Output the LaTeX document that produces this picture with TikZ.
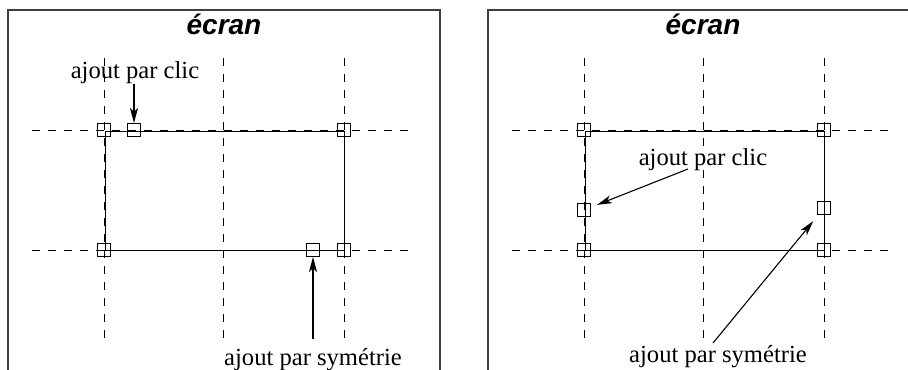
\documentclass[tikz,border=0pt]{standalone}
\usepackage{fontspec}
\setmainfont{Liberation Serif}
\setsansfont{Liberation Sans}
\usetikzlibrary{arrows.meta}
\begin{document}
\begin{tikzpicture}[x=0.5pt,y=-0.5pt,
  frameline/.style={draw=black!75,line width=0.8pt},
  gridline/.style={draw=black,line width=0.5pt,dash pattern=on 4pt off 4pt},
  rectline/.style={draw=black,line width=0.5pt},
  pt/.style={draw=black,line width=0.5pt,minimum size=6.5pt,inner sep=0pt},
  lbl/.style={font=\fontsize{12.3}{14}\selectfont,inner sep=0pt,anchor=base},
  ttl/.style={font=\fontsize{14}{16}\selectfont\sffamily\bfseries\itshape,inner sep=0pt,anchor=base},
  ptr/.style={draw=black,line width=0.55pt,-{Stealth[length=7.5pt,width=4pt,inset=2pt]}}]
\useasboundingbox (0,0) rectangle (908,369);

% ---------- left panel ----------
\draw[frameline] (8,372) -- (8,10) -- (440,10) -- (440,372);
\node[ttl] (titleL) at (224,35) {écran};
\foreach \x in {104,223,344} \draw[gridline] (\x,58) -- (\x,340);
\foreach \y in {130,250} \draw[gridline] (32,\y) -- (414,\y);
\draw[rectline] (105,131) rectangle (344,250);
\node[pt] (aL) at (104,130) {};
\node[pt] (bL) at (344,130) {};
\node[pt] (cL) at (104,250) {};
\node[pt] (dL) at (344,250) {};
\node[pt] (clickL) at (134,130) {};
\node[pt] (symL) at (313,250) {};
\node[lbl] (clicTextL) at (135,78) {ajout par clic};
\node[lbl] (symTextL) at (313,365) {ajout par symétrie};
\draw[ptr] (clicTextL.south -| clickL) -- (clickL.north);
\coordinate (symTailL) at (313,339);
\draw[ptr] (symTailL) -- (symL.south);

% ---------- right panel ----------
\draw[frameline] (488,372) -- (488,10) -- (910,10);
\node[ttl] (titleR) at (703,35) {écran};
\foreach \x in {584,703,824} \draw[gridline] (\x,58) -- (\x,340);
\foreach \y in {130,250} \draw[gridline] (512,\y) -- (894,\y);
\draw[rectline] (585,131) rectangle (824,250);
\node[pt] (aR) at (584,130) {};
\node[pt] (bR) at (824,130) {};
\node[pt] (cR) at (584,250) {};
\node[pt] (dR) at (824,250) {};
\node[pt] (clickR) at (584,210) {};
\node[pt] (symR) at (824,208) {};
\node[lbl] (clicTextR) at (703,165) {ajout par clic};
\node[lbl] (symTextR) at (718,362) {ajout par symétrie};
\coordinate (clicTailR) at (688,169);
\coordinate (symTailR) at (713,343);
\draw[ptr,shorten >=7pt] (clicTailR) -- (clickR.center);
\draw[ptr,shorten >=8.5pt] (symTailR) -- (symR.center);
\end{tikzpicture}
\end{document}
